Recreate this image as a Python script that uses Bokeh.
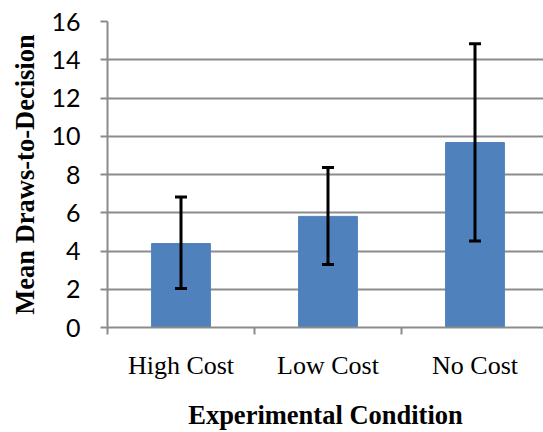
import numpy as np
from bokeh.plotting import figure
from bokeh.models import ColumnDataSource, Range1d, FixedTicker, Whisker, TeeHead
from bokeh.embed import file_html
from bokeh.resources import INLINE

# ---- data ----
categories = ["High Cost", "Low Cost", "No Cost"]
means = [4.39, 5.81, 9.67]
err_upper = [6.82, 8.36, 14.84]
err_lower = [2.04, 3.29, 4.52]
y_ticks = [0, 2, 4, 6, 8, 10, 12, 14, 16]

x_centers = (np.arange(len(categories)) + 0.5).tolist()
x_bounds = np.arange(len(categories) + 1).tolist()

src = ColumnDataSource(dict(x=x_centers, top=means, upper=err_upper, lower=err_lower))

GRID = "#8c8c8c"

p = figure(width=543, height=432, output_backend="svg", toolbar_location=None,
           x_range=Range1d(0, 2.966), y_range=Range1d(0, 16),
           min_border_left=107, min_border_right=0, min_border_top=21, min_border_bottom=105)
p.outline_line_color = None
p.background_fill_color = "white"
p.border_fill_color = "white"

p.vbar(x="x", top="top", bottom=0, width=0.4, source=src,
       fill_color="#4F81BD", line_color="#4F81BD", line_width=1)

w = Whisker(base="x", upper="upper", lower="lower", source=src, level="overlay",
            line_color="black", line_width=3,
            upper_head=TeeHead(size=12, line_color="black", line_width=3),
            lower_head=TeeHead(size=12, line_color="black", line_width=3))
p.add_layout(w)

# grid
p.xgrid.visible = False
p.ygrid.ticker = FixedTicker(ticks=y_ticks)
p.ygrid.grid_line_color = GRID
p.ygrid.grid_line_width = 2

# y axis
ya = p.yaxis[0]
ya.ticker = FixedTicker(ticks=y_ticks)
ya.axis_line_color = GRID
ya.axis_line_width = 2
ya.major_tick_line_color = GRID
ya.major_tick_line_width = 2
ya.major_tick_out = 7
ya.major_tick_in = 0
ya.minor_tick_line_color = None
ya.major_label_text_font = "Lato"
ya.major_label_text_font_size = "25px"
ya.major_label_text_color = "black"
ya.major_label_standoff = 20
ya.axis_label = "Mean Draws-to-Decision"
ya.axis_label_text_font = "Liberation Serif"
ya.axis_label_text_font_style = "bold"
ya.axis_label_text_font_size = "26.5px"
ya.axis_label_text_color = "black"
ya.axis_label_text_line_height = 1.0
ya.axis_label_standoff = 8

# x axis
xa = p.xaxis[0]
xa.ticker = FixedTicker(ticks=x_centers, minor_ticks=x_bounds)
xa.major_label_overrides = {x: c for x, c in zip(x_centers, categories)}
xa.axis_line_color = GRID
xa.axis_line_width = 2
xa.major_tick_out = 0
xa.major_tick_in = 0
xa.major_tick_line_color = None
xa.minor_tick_line_color = GRID
xa.minor_tick_line_width = 2
xa.minor_tick_out = 7
xa.minor_tick_in = 0
xa.major_label_text_font = "Liberation Serif"
xa.major_label_text_font_size = "26px"
xa.major_label_text_color = "black"
xa.major_label_text_line_height = 1.0
xa.major_label_standoff = 16
xa.axis_label = "Experimental Condition"
xa.axis_label_text_font = "Liberation Serif"
xa.axis_label_text_font_style = "bold"
xa.axis_label_text_font_size = "26.5px"
xa.axis_label_text_color = "black"
xa.axis_label_text_line_height = 1.0
xa.axis_label_standoff = 17

open("out.html", "w").write(file_html(p, INLINE))
